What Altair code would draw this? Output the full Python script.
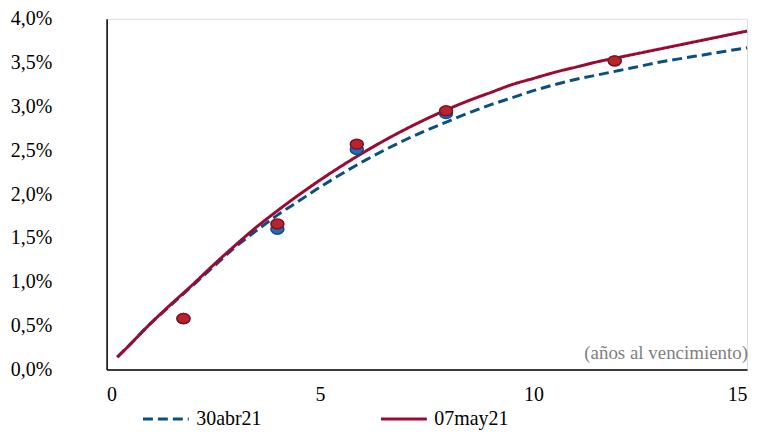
import altair as alt
import pandas as pd

# Curve read-offs (maturity in years, yield in %)
curve_x = [0.25, 0.5, 1, 1.5, 2, 2.5, 3, 3.5, 4, 4.5, 5, 5.5, 6, 6.5, 7, 7.5,
           8, 8.5, 9, 9.5, 10, 10.5, 11, 11.5, 12, 12.5, 13, 13.5, 14, 14.5, 15]
curve_abr = [0.14, 0.26, 0.51, 0.73, 0.95, 1.17, 1.39, 1.58, 1.76, 1.92, 2.08, 2.23,
             2.37, 2.50, 2.62, 2.73, 2.83, 2.93, 3.02, 3.10, 3.18, 3.25, 3.31, 3.36,
             3.41, 3.46, 3.51, 3.55, 3.59, 3.63, 3.67]
curve_may = [0.14, 0.26, 0.51, 0.74, 0.96, 1.19, 1.41, 1.62, 1.81, 1.99, 2.16, 2.32,
             2.47, 2.61, 2.74, 2.86, 2.97, 3.07, 3.16, 3.25, 3.32, 3.39, 3.45, 3.51,
             3.56, 3.61, 3.66, 3.71, 3.76, 3.81, 3.86]

# Observed bond yields
pts_x = [1.8, 4.0, 5.86, 7.95, 11.9]
pts_abr = [0.58, 1.60, 2.51, 2.92, 3.52]
pts_may = [0.58, 1.66, 2.57, 2.95, 3.52]

series = ["30abr21", "07may21"]
line_colors = ["#0B4F82", "#9B0A30"]
y_ticks = [0, 0.5, 1, 1.5, 2, 2.5, 3, 3.5, 4]
x_ticks = [0, 5, 10, 15]

curves = pd.DataFrame(
    [{"x": x, "y": y, "s": series[0]} for x, y in zip(curve_x, curve_abr)]
    + [{"x": x, "y": y, "s": series[1]} for x, y in zip(curve_x, curve_may)]
)
pts_a = pd.DataFrame({"x": pts_x, "y": pts_abr})
pts_m = pd.DataFrame({"x": pts_x, "y": pts_may})

FONT = "Liberation Serif"
ELLIPSE = "M-1,0A1,0.77 0 1,0 1,0A1,0.77 0 1,0 -1,0Z"

xs = alt.Scale(domain=[0, 15], nice=False)
ys = alt.Scale(domain=[0, 4], nice=False)

xenc = alt.X("x:Q", scale=xs, axis=alt.Axis(
    title=None, values=x_ticks, ticks=False, grid=False, domainColor="black",
    domainWidth=1.5, labelFont=FONT, labelFontSize=20, labelColor="black",
    labelPadding=15, format="d"))
yenc = alt.Y("y:Q", scale=ys, axis=alt.Axis(
    title=None, values=y_ticks, ticks=False, grid=False, domainColor="black",
    domainWidth=1.5, labelFont=FONT, labelFontSize=20, labelColor="black",
    labelPadding=55,
    labelExpr="replace(format(datum.value, '.1f'), '.', ',') + '%'"))

lines = alt.Chart(curves).mark_line(strokeWidth=3, interpolate="monotone").encode(
    x=xenc, y=yenc,
    color=alt.Color("s:N", scale=alt.Scale(domain=series, range=line_colors),
                    legend=alt.Legend(
                        title=None, orient="none", direction="horizontal",
                        legendX=35, legendY=377, symbolType="stroke",
                        symbolSize=2116, symbolStrokeWidth=3, labelOffset=6,
                        columnPadding=113, labelFont=FONT, labelFontSize=20,
                        labelColor="black")),
    strokeDash=alt.StrokeDash("s:N", scale=alt.Scale(domain=series, range=[[10, 5], [1, 0]]),
                              legend=None),
    order=alt.Order("s:N", sort="descending"),
)

blue_pts = alt.Chart(pts_a).mark_point(
    filled=True, shape=ELLIPSE, size=169, fill="#1F6FB8", stroke="#0B4F82",
    strokeWidth=1.5, opacity=1).encode(x="x:Q", y="y:Q")
red_pts = alt.Chart(pts_m).mark_point(
    filled=True, shape=ELLIPSE, size=169, fill="#B5262A", stroke="#8B0A26",
    strokeWidth=1.5, opacity=1).encode(x="x:Q", y="y:Q")

note = alt.Chart(pd.DataFrame({"t": ["(años al vencimiento)"]})).mark_text(
    align="right", baseline="bottom", font=FONT, fontSize=19, color="#808080",
    dy=-6, dx=1
).encode(x=alt.datum(15), y=alt.datum(0), text="t:N")

chart = alt.layer(lines, blue_pts, red_pts, note).properties(
    width=643, height=352,
    padding={"left": 2, "top": 0, "right": 5, "bottom": 0},
).configure_view(stroke=None).configure(
    background="white", font=FONT
).configure_axis(labelFont=FONT).configure_legend(labelFont=FONT)

chart.save("out.html", embed_options={"renderer": "svg", "actions": False})
